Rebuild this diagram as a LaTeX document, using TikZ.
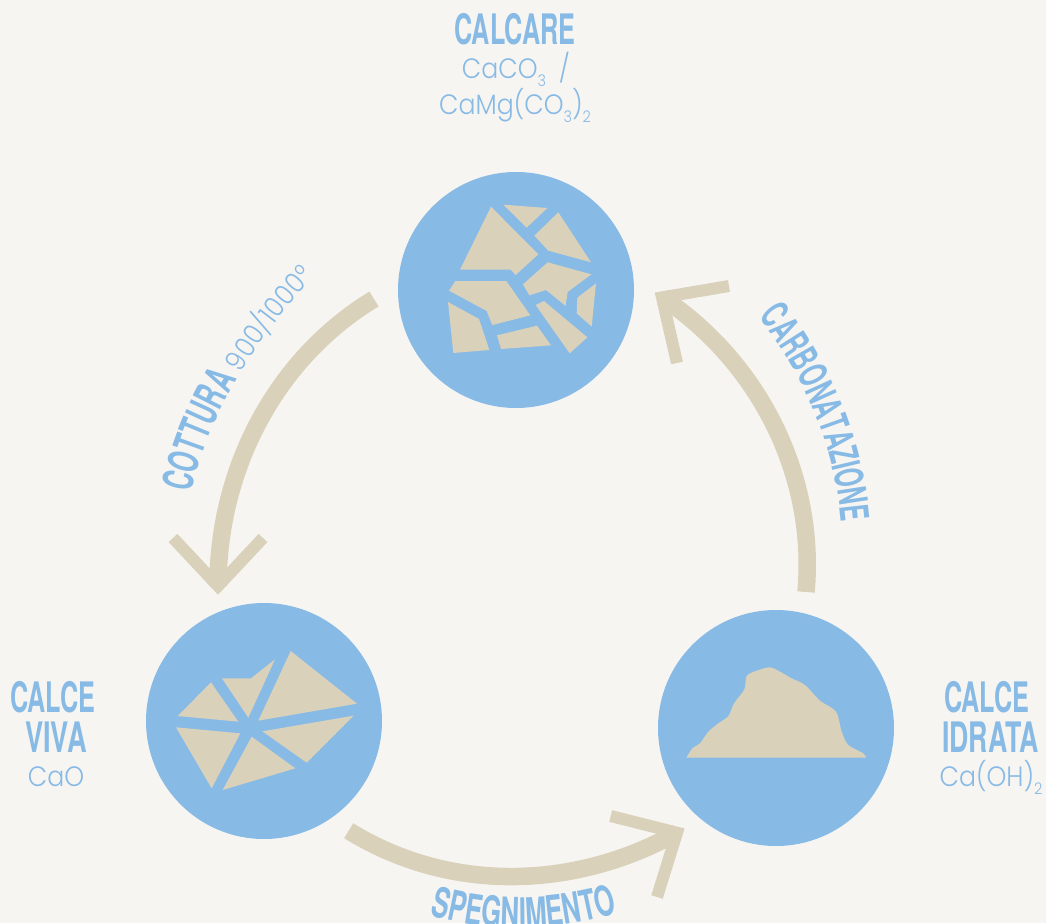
\documentclass[tikz,border=0pt]{standalone}
\usepackage{fontspec}
\usetikzlibrary{decorations.text}
\newfontfamily\heavyfam[FakeStretch=.6]{TeX Gyre Heros Bold}
\newfontfamily\heavynarrow[FakeStretch=.6]{TeX Gyre Heros Bold}
\newfontfamily\heavywide[FakeStretch=.615]{TeX Gyre Heros Bold}
\newfontfamily\lightfam[FakeStretch=.9]{Poppins Light}
\newcommand{\heavyfont}{\fontsize{42}{42}\heavyfam}
\newcommand{\heavycurve}{\fontsize{42}{42}\heavyfam}
\newcommand{\heavylong}{\fontsize{39.5}{39.5}\heavynarrow}
\newcommand{\heavyspeg}{\fontsize{42}{42}\heavywide}
\newcommand{\lightfont}{\fontsize{28}{28}\lightfam}
\newcommand{\sbs}[1]{\raisebox{-8pt}{\fontsize{16}{16}\lightfam #1}}
\definecolor{bgc}{HTML}{F6F5F1}
\definecolor{sky}{HTML}{88BAE6}
\definecolor{sand}{HTML}{D9D1BA}
\tikzset{
  bubble/.style={circle,fill=sky,draw=none,inner sep=0pt,minimum size=236pt},
  shaft/.style={draw=sand,line width=17.5pt,line cap=butt},
  headv/.style={draw=sand,line width=12pt,line cap=butt,line join=miter},
  stone/.style={fill=sand,draw=none},
  title/.style={text=sky,anchor=base,inner sep=0pt,font=\heavyfont},
  formula/.style={text=sky,anchor=base,inner sep=0pt,font=\lightfont},
}
\begin{document}
\begin{tikzpicture}[x=1pt,y=-1pt]
\useasboundingbox (0,0) rectangle (1046,923);
\fill[bgc] (0,0) rectangle (1046,923);

% circles
\node[bubble] (calcare) at (516,290) {};
\node[bubble] (viva) at (264,721) {};
\node[bubble] (idrata) at (776,728) {};

% stones, top
\begin{scope}[shift={(390,170)},x=.33333pt,y=-.33333pt]
\fill[stone] (303,110)--(445,253)--(377,315)--(362,299)--(210,299)--cycle;
\fill[stone] (340,104)--(472,114)--(410,173)--cycle;
\fill[stone] (505,127)--(603,277)--(475,242)--(433,197)--cycle;
\fill[stone] (473,277)--(604,313)--(533,366)--(527,408)--(468,360)--(418,376)--(399,343)--cycle;
\fill[stone] (618,340)--(605,470)--(560,430)--(562,383)--cycle;
\fill[stone] (462,393)--(592,502)--(539,550)--(437,405)--cycle;
\fill[stone] (196,333)--(349,333)--(421,436)--(307,465)--(290,423)--(177,362)--cycle;
\fill[stone] (174,396)--(267,447)--(298,540)--(190,549)--cycle;
\fill[stone] (321,496)--(441,467)--(483,526)--(333,537)--cycle;
\end{scope}

% stones, left
\begin{scope}[shift={(140,600)},x=.33333pt,y=-.33333pt]
\fill[stone] (113,348)--(213,247)--(295,365)--cycle;
\fill[stone] (246,235)--(333,235)--(405,178)--(325,353)--cycle;
\fill[stone] (452,153)--(651,311)--(355,362)--cycle;
\fill[stone] (641,347)--(500,488)--(367,394)--cycle;
\fill[stone] (335,410)--(466,505)--(248,570)--cycle;
\fill[stone] (108,382)--(301,400)--(215,565)--cycle;
\end{scope}

% heap, right
\begin{scope}[shift={(650,610)},x=.33333pt,y=-.33333pt]
\fill[stone] plot[smooth,tension=.5] coordinates {(109,443) (128,414) (150,400) (175,365) (205,340) (235,318) (252,280) (283,238) (290,198) (320,182) (360,172) (390,185) (425,205) (465,225) (510,272) (558,305) (575,365) (595,405) (640,430) (648,443)} -- cycle;
\end{scope}

% connector end points
\coordinate (cotA) at (374,299);
\coordinate (cotB) at (218,586);
\coordinate (cotL) at (173,538);
\coordinate (cotR) at (263,538);
\coordinate (speA) at (348.7,830.7);
\coordinate (speB) at (677,832.7);
\coordinate (speL) at (610.7,816);
\coordinate (speR) at (657,897);
\coordinate (carA) at (806,592);
\coordinate (carB) at (662,297.4);
\coordinate (carL) at (729,286);
\coordinate (carR) at (677,363);

% connectors
\draw[shaft] (cotA) .. controls (275,359) and (218,470) .. (cotB);
\draw[headv] (cotL) -- (cotB) -- (cotR);
\draw[shaft] (speA) .. controls (449,893) and (574,890) .. (speB);
\draw[headv] (speL) -- (speB) -- (speR);
\draw[shaft] (carA) .. controls (816.5,475.5) and (759,362) .. (carB);
\draw[headv] (carL) -- (carB) -- (carR);

% curved labels
\coordinate (lab1a) at (192,493);
\coordinate (lab1b) at (320,270);
\path[decorate,decoration={text along path,text color=sky,
  text={|\heavycurve|COTTURA |\lightfont|900/1000°}}]
  (lab1a) .. controls (205,420) and (258,335) .. (lab1b);
\coordinate (lab2a) at (758,317);
\coordinate (lab2b) at (842,530);
\path[decorate,decoration={text along path,text color=sky,
  text={|\heavylong|CARBONATAZIONE}}]
  (lab2a) .. controls (790,355) and (835,430) .. (lab2b);
\coordinate (lab3a) at (430,915);
\coordinate (lab3b) at (626,911);
\path[decorate,decoration={text along path,text color=sky,
  text={|\heavyspeg|SPEGNIMENTO}}]
  (lab3a) .. controls (490,933) and (555,933) .. (lab3b);

% labels
\node[title] (t1) at (515,45) {CALCARE};
\node[formula] (f1a) at (516,79) {CaCO\sbs{3}\hspace{6pt} /};
\node[formula] (f1b) at (515,115) {CaMg(CO\sbs{3})\sbs{2}};
\node[title] (t2a) at (53,712) {CALCE};
\node[title,xscale=1.08] (t2b) at (56,752) {VIVA};
\node[formula] (f2) at (56,786) {CaO};
\node[title] (t3a) at (987,712) {CALCE};
\node[title,xscale=1.06] (t3b) at (990.5,752) {IDRATA};
\node[formula] (f3) at (991,786) {Ca(OH)\sbs{2}};
\end{tikzpicture}
\end{document}
